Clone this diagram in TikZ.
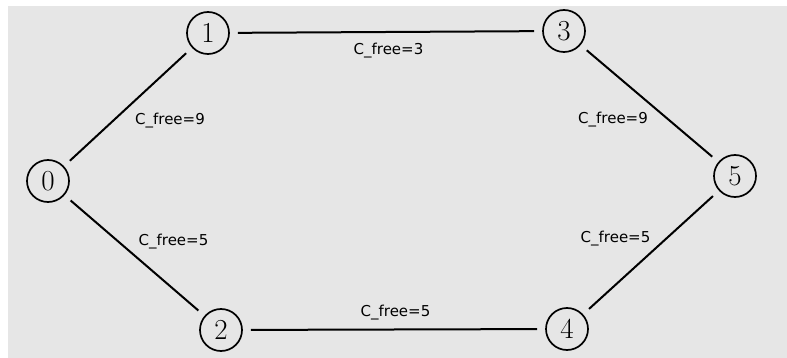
\documentclass[tikz,border=0pt]{standalone}
\usepackage{fontspec}
\newfontfamily\lblfont{DejaVu Sans}
\definecolor{bggray}{HTML}{E6E6E6}
\tikzset{
  vertex/.style={circle, draw, line width=1.7pt, minimum size=42pt, inner sep=0pt, font=\fontsize{29}{29}\selectfont},
  link/.style={line width=2pt, shorten <=8pt, shorten >=8pt},
  lbl/.style={anchor=base, inner sep=0pt, font=\lblfont\fontsize{15}{15}\selectfont}
}
\begin{document}
\begin{tikzpicture}[x=1pt, y=-1pt]
\useasboundingbox (0,0) rectangle (787,358);
\fill[white] (0,0) rectangle (787,358);
\fill[bggray] (8,6) rectangle (787,358);
\node[vertex] (n0) at (48,181) {0};
\node[vertex] (n1) at (208,33) {1};
\node[vertex] (n3) at (564,31) {3};
\node[vertex] (n5) at (735,176) {5};
\node[vertex] (n4) at (567,329) {4};
\node[vertex] (n2) at (221,330) {2};
\draw[link] (n0) -- (n1);
\draw[link] (n1) -- (n3);
\draw[link] (n3) -- (n5);
\draw[link] (n0) -- (n2);
\draw[link] (n2) -- (n4);
\draw[link] (n4) -- (n5);
\node[lbl] (l01) at (170,125) {C\_free=9};
\node[lbl] (l13) at (388.5,55) {C\_free=3};
\node[lbl] (l35) at (613,124) {C\_free=9};
\node[lbl] (l02) at (173.5,246) {C\_free=5};
\node[lbl] (l24) at (395.5,316) {C\_free=5};
\node[lbl] (l45) at (615.5,243) {C\_free=5};
\end{tikzpicture}
\end{document}
